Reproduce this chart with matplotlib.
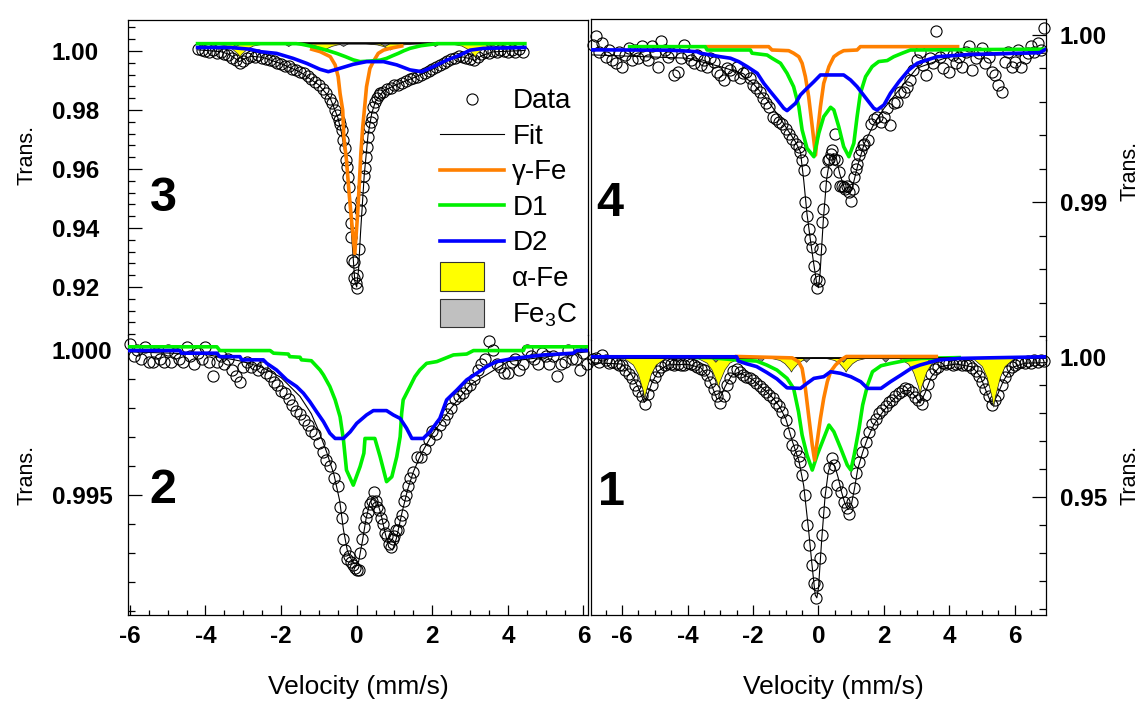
import matplotlib
matplotlib.use("Agg")
import matplotlib.pyplot as plt
import matplotlib.patches as mpatches
from matplotlib.lines import Line2D
from matplotlib.legend_handler import HandlerPatch
from matplotlib.ticker import MultipleLocator

plt.rcParams['font.family'] = ['Liberation Sans', 'DejaVu Sans']
plt.rcParams['mathtext.fontset'] = 'custom'
plt.rcParams['mathtext.rm'] = 'Liberation Sans'
plt.rcParams['mathtext.it'] = 'Liberation Sans:italic'
plt.rcParams['axes.unicode_minus'] = False

ORANGE = '#ff8000'
GREEN = '#00f000'
BLUE = '#0000ff'
YELLOW = '#ffff00'
GREY = '#808080'

# ---------------- panel 3 (top left) ----------------
P3_DATA = [(-4.2, 1.0008), (-4.1, 1.0004), (-4.0, 1.0000), (-3.9, 0.9996), (-3.8, 1.0002), (-3.7, 0.9992),
           (-3.6, 0.9998), (-3.5, 0.9990), (-3.4, 0.9986), (-3.3, 0.9978), (-3.2, 0.9968), (-3.1, 0.9958),
           (-3.0, 0.9966), (-2.9, 0.9978), (-2.8, 0.9984), (-2.7, 0.9980), (-2.6, 0.9986), (-2.5, 0.9978),
           (-2.4, 0.9974), (-2.3, 0.9970), (-2.2, 0.9966), (-2.1, 0.9960), (-2.0, 0.9956), (-1.9, 0.9950),
           (-1.8, 0.9948), (-1.7, 0.9940), (-1.6, 0.9934), (-1.5, 0.9930), (-1.4, 0.9926), (-1.3, 0.9914),
           (-1.2, 0.9906), (-1.1, 0.9896), (-1.0, 0.9884), (-0.9, 0.9872), (-0.8, 0.9858), (-0.7, 0.9838),
           (-0.64, 0.9823), (-0.58, 0.9800), (-0.52, 0.9782), (-0.48, 0.9766), (-0.44, 0.9752), (-0.40, 0.9732),
           (-0.36, 0.9698), (-0.32, 0.9670), (-0.28, 0.9631), (-0.25, 0.9608), (-0.22, 0.9574), (-0.20, 0.9540),
           (-0.18, 0.9472), (-0.16, 0.9416), (-0.14, 0.9370), (-0.12, 0.9292), (-0.08, 0.9286), (-0.06, 0.9230),
           (-0.03, 0.9213), (0.0, 0.9196), (0.02, 0.9240), (0.05, 0.9330), (0.09, 0.9461), (0.11, 0.9495),
           (0.16, 0.9540), (0.19, 0.9575), (0.22, 0.9602), (0.25, 0.9642), (0.27, 0.9676), (0.31, 0.9710),
           (0.33, 0.9743), (0.37, 0.9760), (0.40, 0.9777), (0.44, 0.9811), (0.48, 0.9826), (0.53, 0.9840),
           (0.58, 0.9850), (0.62, 0.9857), (0.7, 0.9862), (0.8, 0.9870), (0.9, 0.9876), (1.0, 0.9884),
           (1.1, 0.9886), (1.2, 0.9892), (1.3, 0.9900), (1.4, 0.9904), (1.5, 0.9908), (1.6, 0.9912),
           (1.7, 0.9920), (1.8, 0.9924), (1.9, 0.9932), (2.0, 0.9938), (2.1, 0.9946), (2.2, 0.9952),
           (2.3, 0.9960), (2.4, 0.9966), (2.5, 0.9974), (2.6, 0.9978), (2.7, 0.9984), (2.8, 0.9980),
           (2.9, 0.9978), (3.0, 0.9972), (3.1, 0.9968), (3.2, 0.9980), (3.3, 0.9990), (3.4, 0.9996),
           (3.5, 0.9992), (3.6, 1.0000), (3.7, 0.9996), (3.8, 1.0004), (3.9, 1.0000), (4.0, 0.9996),
           (4.1, 1.0002), (4.2, 0.9998), (4.3, 1.0006), (4.4, 0.9998)]
P3_FIT = [(-4.2, 1.0004), (-3.6, 0.9998), (-3.4, 0.9990), (-3.25, 0.9978), (-3.1, 0.9964), (-2.95, 0.9975),
          (-2.8, 0.9982), (-2.5, 0.9979), (-2.0, 0.9957), (-1.5, 0.9929), (-1.0, 0.9885), (-0.7, 0.9840),
          (-0.5, 0.9775), (-0.4, 0.9722), (-0.3, 0.9645), (-0.2, 0.9510), (-0.12, 0.9350), (-0.05, 0.9220),
          (0.0, 0.9200), (0.05, 0.9260), (0.1, 0.9380), (0.2, 0.9580), (0.3, 0.9715), (0.4, 0.9790),
          (0.5, 0.9830), (0.7, 0.9864), (1.0, 0.9883), (1.5, 0.9909), (2.0, 0.9938), (2.5, 0.9974),
          (2.8, 0.9980), (3.0, 0.9974), (3.12, 0.9968), (3.3, 0.9984), (3.6, 0.9997), (4.45, 1.0002)]
P3_GAMMA = [(-1.19, 1.0006), (-0.97, 0.9998), (-0.70, 0.9981), (-0.57, 0.9953), (-0.49, 0.9913), (-0.44, 0.9856),
            (-0.37, 0.9800), (-0.34, 0.9709), (-0.27, 0.9630), (-0.20, 0.9517), (-0.12, 0.9404), (-0.05, 0.9314),
            (0.02, 0.9438), (0.07, 0.9551), (0.11, 0.9653), (0.16, 0.9743), (0.22, 0.9823), (0.26, 0.9879),
            (0.31, 0.9913), (0.35, 0.9941), (0.44, 0.9964), (0.57, 0.9992), (0.71, 1.0003), (0.88, 1.0009),
            (1.19, 1.0017)]
P3_D1 = [(-4.21, 1.0025), (-1.6, 1.0025), (-1.46, 1.0023), (-1.2, 1.0016), (-0.97, 1.0009), (-0.75, 1.0001),
         (-0.53, 0.9992), (-0.3, 0.9981), (-0.09, 0.9970), (0.09, 0.9964), (0.35, 0.9966), (0.62, 0.9969),
         (0.79, 0.9975), (0.95, 0.9984), (1.1, 0.9992), (1.25, 1.0001), (1.41, 1.0009), (1.7, 1.0018),
         (2.12, 1.0025), (4.45, 1.0025)]
P3_D2 = [(-4.21, 1.0012), (-3.35, 1.0012), (-2.82, 1.0006), (-2.56, 0.9998), (-2.12, 0.9992), (-1.68, 0.9975),
         (-1.32, 0.9958), (-0.97, 0.9938), (-0.75, 0.9930), (-0.53, 0.9938), (-0.09, 0.9955), (0.26, 0.9964),
         (0.71, 0.9964), (1.06, 0.9953), (1.41, 0.9936), (1.72, 0.9930), (2.03, 0.9947), (2.38, 0.9969),
         (2.73, 0.9986), (3.0, 1.0003), (3.35, 1.0009), (4.45, 1.0012)]
P3_BASE = 1.0026
P3_SPAN = (-4.21, 4.45)
P3_ALPHA = [(-4.21, 1.0026), (-3.75, 1.0026), (-3.45, 1.00185), (-3.30, 1.0008), (-3.15, 0.9991), (-3.10, 0.9982),
            (-3.05, 0.9991), (-2.90, 1.0008), (-2.75, 1.00185), (-2.45, 1.0026), (-1.51, 1.0026), (-1.21, 1.00224),
            (-1.06, 1.00176), (-0.91, 1.0009), (-0.86, 1.0005), (-0.81, 1.0009), (-0.66, 1.00176), (-0.51, 1.00224),
            (-0.21, 1.0026), (0.23, 1.0026), (0.53, 1.00224), (0.68, 1.00176), (0.83, 1.0009), (0.88, 1.0005),
            (0.93, 1.0009), (1.08, 1.00176), (1.23, 1.00224), (1.53, 1.0026), (2.47, 1.0026), (2.77, 1.00185),
            (2.92, 1.0008), (3.07, 0.9991), (3.12, 0.9982), (3.17, 0.9991), (3.32, 1.0008), (3.47, 1.00185),
            (3.77, 1.0026), (4.45, 1.0026)]
P3_FE3C = [(-4.21, 1.0026), (-3.32, 1.0026), (-3.2, 1.0017), (-3.08, 1.0026), (-1.93, 1.0026), (-1.81, 1.0017),
           (-1.69, 1.0026), (-0.48, 1.0026), (-0.36, 1.0017), (-0.24, 1.0026), (0.62, 1.0026), (0.74, 1.0017),
           (0.86, 1.0026), (1.95, 1.0026), (2.07, 1.0017), (2.19, 1.0026), (3.36, 1.0026), (3.48, 1.0017),
           (3.60, 1.0026), (4.45, 1.0026)]

# ---------------- panel 2 (bottom left) ----------------
P2_DATA = [(-6.0, 1.0002), (-5.9, 0.9998), (-5.8, 1.0000), (-5.7, 0.9997), (-5.6, 1.0001), (-5.5, 0.9996),
           (-5.4, 0.9996), (-5.3, 0.9999), (-5.2, 0.9997), (-5.1, 0.9996), (-5.0, 1.0000), (-4.9, 0.9996),
           (-4.8, 0.9999), (-4.7, 0.9997), (-4.6, 0.9996), (-4.5, 1.0001), (-4.4, 0.9998), (-4.3, 0.9995),
           (-4.2, 0.9999), (-4.1, 0.9997), (-4.0, 1.0001), (-3.9, 0.9996), (-3.8, 0.9991), (-3.7, 0.9996),
           (-3.6, 0.9998), (-3.5, 0.9995), (-3.4, 0.9997), (-3.3, 0.9993), (-3.2, 0.9991), (-3.1, 0.9989),
           (-3.0, 0.9994), (-2.9, 0.9996), (-2.8, 0.9994), (-2.7, 0.9995), (-2.6, 0.9993), (-2.5, 0.9994),
           (-2.4, 0.9992), (-2.3, 0.9991), (-2.2, 0.9989), (-2.1, 0.9988), (-2.0, 0.9986), (-1.9, 0.9985),
           (-1.8, 0.9983), (-1.7, 0.9981), (-1.6, 0.9979), (-1.5, 0.9978), (-1.4, 0.9976), (-1.3, 0.9974),
           (-1.2, 0.9972), (-1.1, 0.9971), (-1.0, 0.9968), (-0.9, 0.9965), (-0.8, 0.9962), (-0.7, 0.9960),
           (-0.6, 0.9956), (-0.5, 0.9953), (-0.45, 0.9946), (-0.4, 0.9942), (-0.35, 0.9935), (-0.3, 0.9931),
           (-0.25, 0.9928), (-0.2, 0.9929), (-0.15, 0.9927), (-0.1, 0.9926), (-0.05, 0.9925), (0.0, 0.9924),
           (0.05, 0.9924), (0.1, 0.9930), (0.15, 0.9935), (0.2, 0.9939), (0.25, 0.9942), (0.3, 0.9944),
           (0.35, 0.9947), (0.4, 0.9948), (0.45, 0.9951), (0.5, 0.9948), (0.55, 0.9946), (0.6, 0.9945),
           (0.65, 0.9942), (0.7, 0.9940), (0.75, 0.9937), (0.8, 0.9936), (0.85, 0.9933), (0.9, 0.9932),
           (0.95, 0.9935), (1.0, 0.9936), (1.05, 0.9938), (1.1, 0.9938), (1.15, 0.9941), (1.2, 0.9943),
           (1.25, 0.9948), (1.3, 0.9950), (1.35, 0.9953), (1.4, 0.9956), (1.5, 0.9958), (1.6, 0.9963),
           (1.7, 0.9963), (1.8, 0.9966), (1.9, 0.9969), (2.0, 0.9972), (2.1, 0.9971), (2.2, 0.9974),
           (2.3, 0.9976), (2.4, 0.9978), (2.5, 0.9980), (2.6, 0.9983), (2.7, 0.9984), (2.8, 0.9985),
           (2.9, 0.9987), (3.0, 0.9988), (3.1, 0.9990), (3.2, 0.9993), (3.3, 0.9995), (3.4, 0.9997),
           (3.5, 1.0003), (3.6, 1.0000), (3.7, 0.9995), (3.8, 0.9994), (3.9, 0.9992), (4.0, 0.9992),
           (4.1, 0.9996), (4.2, 0.9997), (4.3, 0.9993), (4.4, 0.9995), (4.5, 1.0000), (4.6, 0.9998),
           (4.7, 0.9997), (4.8, 0.9995), (4.9, 0.9999), (5.0, 0.9998), (5.1, 0.9995), (5.2, 0.9998),
           (5.3, 0.9991), (5.4, 0.9995), (5.5, 0.9996), (5.6, 1.0000), (5.7, 0.9997), (5.8, 0.9997),
           (5.9, 0.9993), (6.0, 0.9999), (6.1, 0.9995)]
P2_FIT = [(-6.05, 0.99994), (-4.0, 0.99985), (-3.0, 0.99960), (-2.5, 0.99940), (-2.0, 0.99905), (-1.5, 0.99840),
          (-1.2, 0.99780), (-1.0, 0.99720), (-0.8, 0.99650), (-0.6, 0.99570), (-0.45, 0.99480), (-0.35, 0.99380),
          (-0.25, 0.99310), (-0.15, 0.99280), (-0.05, 0.99262), (0.05, 0.99270), (0.15, 0.99340), (0.25, 0.99420),
          (0.35, 0.99475), (0.45, 0.99490), (0.55, 0.99475), (0.65, 0.99430), (0.75, 0.99370), (0.85, 0.99320),
          (0.95, 0.99310), (1.05, 0.99350), (1.2, 0.99440), (1.35, 0.99520), (1.5, 0.99580), (1.7, 0.99640),
          (2.0, 0.99710), (2.5, 0.99800), (3.0, 0.99880), (4.0, 0.99960), (6.1, 0.99994)]
P2_D1 = [(-6.05, 1.00011), (-3.70, 1.00011), (-3.62, 0.99998), (-2.29, 0.99998), (-2.20, 0.99989), (-1.81, 0.99986),
         (-1.77, 0.99977), (-1.50, 0.99975), (-1.46, 0.99966), (-1.20, 0.99963), (-0.97, 0.99931), (-0.88, 0.99914),
         (-0.71, 0.99874), (-0.57, 0.99828), (-0.44, 0.99770), (-0.35, 0.99690), (-0.27, 0.99586), (-0.09, 0.99534),
         (0.09, 0.99598), (0.19, 0.99644), (0.22, 0.99695), (0.48, 0.99695), (0.62, 0.99632), (0.79, 0.99546),
         (0.93, 0.99563), (1.06, 0.99632), (1.15, 0.99701), (1.19, 0.99782), (1.23, 0.99828), (1.41, 0.99874),
         (1.54, 0.99908), (1.67, 0.99931), (1.85, 0.99954), (2.12, 0.99960), (2.56, 0.99983), (2.91, 0.99986),
         (3.09, 0.99998), (4.41, 0.99998), (4.45, 1.00011), (6.12, 1.00011)]
P2_D2 = [(-6.05, 0.99998), (-4.68, 0.99998), (-4.63, 0.99989), (-3.70, 0.99989), (-3.62, 0.99977), (-3.09, 0.99977),
         (-3.04, 0.99966), (-2.47, 0.99966), (-2.38, 0.99954), (-2.12, 0.99931), (-1.85, 0.99897), (-1.59, 0.99874),
         (-1.41, 0.99851), (-1.24, 0.99822), (-1.06, 0.99787), (-0.88, 0.99753), (-0.71, 0.99713), (-0.57, 0.99695),
         (-0.35, 0.99695), (-0.17, 0.99718), (0.0, 0.99747), (0.26, 0.99776), (0.44, 0.99791), (0.79, 0.99791),
         (0.97, 0.99776), (1.15, 0.99764), (1.32, 0.99730), (1.46, 0.99695), (1.76, 0.99695), (1.94, 0.99718),
         (2.20, 0.99764), (2.38, 0.99828), (2.65, 0.99862), (2.91, 0.99897), (3.18, 0.99920), (3.44, 0.99943),
         (3.70, 0.99960), (4.15, 0.99971), (4.94, 0.99983), (5.73, 0.99989), (5.82, 0.99998), (6.12, 0.99998)]

# ---------------- panel 4 (top right) ----------------
P4_DATA = [(-6.9, 0.9994), (-6.8, 0.9999), (-6.7, 0.9990), (-6.6, 0.9995), (-6.5, 0.9987), (-6.4, 0.9991),
           (-6.3, 0.9985), (-6.2, 0.9983), (-6.1, 0.9990), (-6.0, 0.9981), (-5.9, 0.9988), (-5.8, 0.9992),
           (-5.7, 0.9985), (-5.6, 0.9991), (-5.5, 0.9986), (-5.4, 0.9993), (-5.3, 0.9988), (-5.2, 0.9985),
           (-5.1, 0.9993), (-5.0, 0.9989), (-4.9, 0.9981), (-4.8, 0.9996), (-4.7, 0.9991), (-4.6, 0.9987),
           (-4.5, 0.9989), (-4.4, 0.9976), (-4.3, 0.9978), (-4.2, 0.9986), (-4.1, 0.9994), (-4.0, 0.9988),
           (-3.9, 0.9985), (-3.8, 0.9983), (-3.7, 0.9988), (-3.6, 0.9982), (-3.5, 0.9985), (-3.4, 0.9981),
           (-3.3, 0.9986), (-3.2, 0.9984), (-3.1, 0.9978), (-3.0, 0.9976), (-2.9, 0.9973), (-2.8, 0.9980),
           (-2.7, 0.9979), (-2.6, 0.9976), (-2.5, 0.9981), (-2.4, 0.9974), (-2.3, 0.9977), (-2.2, 0.9978),
           (-2.1, 0.9974), (-2.0, 0.9970), (-1.9, 0.9968), (-1.8, 0.9966), (-1.7, 0.9962), (-1.6, 0.9959),
           (-1.5, 0.9957), (-1.4, 0.9951), (-1.3, 0.9950), (-1.2, 0.9948), (-1.1, 0.9947), (-1.0, 0.9944),
           (-0.9, 0.9941), (-0.8, 0.9938), (-0.7, 0.9935), (-0.6, 0.9933), (-0.55, 0.9930), (-0.5, 0.9925),
           (-0.45, 0.9919), (-0.4, 0.9900), (-0.35, 0.9892), (-0.3, 0.9884), (-0.25, 0.9878), (-0.19, 0.9873),
           (-0.14, 0.9862), (-0.09, 0.9854), (-0.04, 0.9849), (0.02, 0.9853), (0.06, 0.9872), (0.1, 0.9888),
           (0.14, 0.9896), (0.2, 0.9910), (0.24, 0.9918), (0.28, 0.9925), (0.32, 0.9926), (0.37, 0.9929),
           (0.42, 0.9931), (0.47, 0.9926), (0.52, 0.9941), (0.57, 0.9925), (0.62, 0.9918), (0.67, 0.9910),
           (0.72, 0.9910), (0.77, 0.9909), (0.82, 0.9908), (0.88, 0.9910), (0.94, 0.9906), (1.0, 0.9901),
           (1.04, 0.9908), (1.08, 0.9915), (1.14, 0.9920), (1.18, 0.9923), (1.24, 0.9928), (1.3, 0.9931),
           (1.35, 0.9934), (1.4, 0.9935), (1.5, 0.9937), (1.6, 0.9947), (1.7, 0.9950), (1.8, 0.9951),
           (1.9, 0.9948), (2.0, 0.9951), (2.1, 0.9956), (2.2, 0.9946), (2.3, 0.9959), (2.4, 0.9960),
           (2.5, 0.9966), (2.6, 0.9966), (2.7, 0.9969), (2.8, 0.9973), (2.9, 0.9979), (3.0, 0.9985),
           (3.1, 0.9990), (3.2, 0.9982), (3.3, 0.9976), (3.4, 0.9986), (3.5, 0.9983), (3.6, 1.0002),
           (3.7, 0.9987), (3.8, 0.9980), (3.9, 0.9990), (4.0, 0.9978), (4.1, 0.9988), (4.2, 0.9983),
           (4.3, 0.9987), (4.4, 0.9981), (4.5, 0.9990), (4.6, 0.9993), (4.7, 0.9979), (4.8, 0.9986),
           (4.9, 0.9989), (5.0, 0.9992), (5.1, 0.9983), (5.2, 0.9987), (5.3, 0.9978), (5.4, 0.9976),
           (5.5, 0.9970), (5.6, 0.9966), (5.7, 0.9984), (5.8, 0.9990), (5.9, 0.9981), (6.0, 0.9984),
           (6.1, 0.9991), (6.2, 0.9981), (6.3, 0.9986), (6.4, 0.9989), (6.5, 0.9993), (6.6, 0.9990),
           (6.7, 0.9995), (6.8, 0.9991), (6.9, 1.0004)]
P4_FIT = [(-6.95, 0.99880), (-4.0, 0.99860), (-3.0, 0.99810), (-2.5, 0.99780), (-2.0, 0.99710), (-1.6, 0.99620),
          (-1.2, 0.99510), (-0.9, 0.99420), (-0.7, 0.99360), (-0.55, 0.99300), (-0.45, 0.99130), (-0.35, 0.98930),
          (-0.25, 0.98780), (-0.15, 0.98640), (-0.05, 0.98510), (0.0, 0.98490), (0.05, 0.98580), (0.15, 0.98900),
          (0.25, 0.99140), (0.35, 0.99260), (0.45, 0.99290), (0.55, 0.99260), (0.65, 0.99170), (0.8, 0.99080),
          (0.95, 0.99050), (1.05, 0.99100), (1.2, 0.99220), (1.4, 0.99350), (1.7, 0.99470), (2.0, 0.99560),
          (2.5, 0.99680), (3.0, 0.99800), (4.0, 0.99870), (6.95, 0.99890)]
P4_GAMMA = [(-3.40, 0.99929), (-1.52, 0.99929), (-1.42, 0.99909), (-0.91, 0.99905), (-0.76, 0.99890),
            (-0.60, 0.99869), (-0.50, 0.99830), (-0.40, 0.99750), (-0.30, 0.99631), (-0.19, 0.99451),
            (-0.09, 0.99282), (-0.02, 0.99432), (0.06, 0.99571), (0.16, 0.99710), (0.32, 0.99810),
            (0.47, 0.99869), (0.62, 0.99890), (0.77, 0.99905), (1.18, 0.99909), (1.28, 0.99929), (4.25, 0.99929)]
P4_D1 = [(-5.77, 0.99929), (-3.46, 0.99929), (-3.40, 0.99909), (-2.08, 0.99909), (-2.03, 0.99890), (-1.57, 0.99879),
         (-1.42, 0.99860), (-1.16, 0.99830), (-0.96, 0.99770), (-0.76, 0.99690), (-0.60, 0.99571), (-0.50, 0.99432),
         (-0.35, 0.99322), (-0.14, 0.99272), (0.01, 0.99412), (0.16, 0.99511), (0.37, 0.99567), (0.47, 0.99551),
         (0.62, 0.99451), (0.77, 0.99332), (0.93, 0.99272), (1.08, 0.99352), (1.18, 0.99511), (1.28, 0.99650),
         (1.44, 0.99750), (1.64, 0.99810), (1.84, 0.99840), (2.10, 0.99846), (2.30, 0.99869), (2.56, 0.99890),
         (2.81, 0.99909), (6.95, 0.99914)]
P4_D2 = [(-6.95, 0.99910), (-4.60, 0.99908), (-4.22, 0.99905), (-3.71, 0.99899), (-3.61, 0.99890), (-3.00, 0.99869),
         (-2.69, 0.99860), (-2.44, 0.99840), (-2.18, 0.99810), (-1.87, 0.99770), (-1.67, 0.99710), (-1.47, 0.99661),
         (-1.26, 0.99611), (-1.06, 0.99561), (-0.96, 0.99547), (-0.70, 0.99591), (-0.55, 0.99641), (-0.40, 0.99671),
         (-0.14, 0.99720), (0.06, 0.99760), (0.77, 0.99760), (0.98, 0.99730), (1.18, 0.99690), (1.49, 0.99611),
         (1.69, 0.99561), (1.79, 0.99551), (2.00, 0.99581), (2.20, 0.99651), (2.46, 0.99720), (2.76, 0.99790),
         (3.02, 0.99830), (3.32, 0.99850), (3.63, 0.99869), (4.58, 0.99882), (6.76, 0.99893), (6.95, 0.99914)]

# ---------------- panel 1 (bottom right) ----------------
P1_DATA = [(-6.9, 0.9992), (-6.8, 0.9996), (-6.7, 0.9982), (-6.6, 1.0008), (-6.5, 0.9988), (-6.4, 0.9980),
           (-6.3, 0.9984), (-6.2, 0.9978), (-6.1, 0.9972), (-6.0, 0.9970), (-5.9, 0.9955), (-5.8, 0.9940),
           (-5.7, 0.9925), (-5.6, 0.9900), (-5.5, 0.9880), (-5.4, 0.9862), (-5.3, 0.9834), (-5.2, 0.9868),
           (-5.1, 0.9900), (-5.0, 0.9928), (-4.9, 0.9950), (-4.8, 0.9966), (-4.7, 0.9973), (-4.6, 0.9978),
           (-4.5, 0.9976), (-4.4, 0.9972), (-4.3, 0.9975), (-4.2, 0.9970), (-4.1, 0.9973), (-4.0, 0.9978),
           (-3.9, 0.9976), (-3.8, 0.9970), (-3.7, 0.9964), (-3.6, 0.9958), (-3.5, 0.9952), (-3.4, 0.9935),
           (-3.3, 0.9910), (-3.2, 0.9885), (-3.1, 0.9862), (-3.0, 0.9836), (-2.9, 0.9860), (-2.8, 0.9900),
           (-2.7, 0.9926), (-2.6, 0.9950), (-2.5, 0.9956), (-2.4, 0.9945), (-2.3, 0.9936), (-2.2, 0.9930),
           (-2.1, 0.9924), (-2.0, 0.9918), (-1.9, 0.9908), (-1.8, 0.9895), (-1.7, 0.9886), (-1.6, 0.9875),
           (-1.5, 0.9864), (-1.4, 0.9852), (-1.3, 0.9836), (-1.2, 0.9826), (-1.1, 0.9805), (-1.0, 0.9775),
           (-0.9, 0.9730), (-0.8, 0.9686), (-0.7, 0.9668), (-0.6, 0.9645), (-0.55, 0.9626), (-0.5, 0.9579),
           (-0.42, 0.9507), (-0.34, 0.9400), (-0.29, 0.9329), (-0.19, 0.9257), (-0.14, 0.9192), (-0.09, 0.9138),
           (-0.04, 0.9186), (0.06, 0.9281), (0.11, 0.9364), (0.16, 0.9448), (0.22, 0.9519), (0.32, 0.9602),
           (0.42, 0.9638), (0.47, 0.9614), (0.57, 0.9543), (0.68, 0.9519), (0.78, 0.9483), (0.88, 0.9460),
           (0.93, 0.9441), (1.03, 0.9483), (1.09, 0.9531), (1.14, 0.9585), (1.24, 0.9626), (1.34, 0.9662),
           (1.45, 0.9698), (1.55, 0.9733), (1.65, 0.9760), (1.75, 0.9780), (1.85, 0.9800), (1.95, 0.9812),
           (2.05, 0.9825), (2.15, 0.9838), (2.25, 0.9848), (2.35, 0.9860), (2.45, 0.9870), (2.55, 0.9880),
           (2.65, 0.9888), (2.75, 0.9885), (2.85, 0.9874), (2.95, 0.9858), (3.05, 0.9845), (3.15, 0.9834),
           (3.25, 0.9864), (3.35, 0.9905), (3.45, 0.9940), (3.55, 0.9958), (3.65, 0.9965), (3.8, 0.9977),
           (3.9, 0.9974), (4.0, 0.9979), (4.1, 0.9971), (4.2, 0.9976), (4.3, 0.9977), (4.4, 0.9973),
           (4.5, 0.9971), (4.6, 0.9970), (4.7, 0.9962), (4.8, 0.9950), (4.9, 0.9934), (5.0, 0.9910),
           (5.1, 0.9885), (5.2, 0.9862), (5.3, 0.9830), (5.4, 0.9845), (5.5, 0.9866), (5.6, 0.9900),
           (5.7, 0.9930), (5.8, 0.9950), (5.9, 0.9965), (6.0, 0.9972), (6.1, 0.9977), (6.2, 0.9982),
           (6.3, 0.9978), (6.4, 0.9985), (6.5, 0.9980), (6.6, 0.9988), (6.7, 0.9983), (6.8, 0.9990),
           (6.9, 0.9985)]
P1_FIT = [(-6.95, 0.9980), (-6.0, 0.9975), (-5.7, 0.9935), (-5.5, 0.9890), (-5.4, 0.9860), (-5.32, 0.9838),
          (-5.22, 0.9865), (-5.1, 0.9905), (-4.9, 0.9950), (-4.6, 0.9972), (-4.0, 0.9974), (-3.6, 0.9962),
          (-3.4, 0.9935), (-3.25, 0.9895), (-3.1, 0.9850), (-3.0, 0.9855), (-2.85, 0.9895), (-2.65, 0.9935),
          (-2.45, 0.9945), (-2.2, 0.9932), (-2.0, 0.9918), (-1.7, 0.9888), (-1.4, 0.9855), (-1.2, 0.9825),
          (-1.0, 0.9780), (-0.8, 0.9700), (-0.6, 0.9630), (-0.45, 0.9540), (-0.3, 0.9380), (-0.2, 0.9260),
          (-0.1, 0.9150), (-0.05, 0.9140), (0.0, 0.9175), (0.1, 0.9350), (0.2, 0.9500), (0.3, 0.9590),
          (0.4, 0.9625), (0.5, 0.9610), (0.6, 0.9570), (0.7, 0.9520), (0.8, 0.9480), (0.9, 0.9455),
          (1.0, 0.9470), (1.1, 0.9530), (1.2, 0.9600), (1.35, 0.9660), (1.5, 0.9710), (1.7, 0.9760),
          (2.0, 0.9810), (2.3, 0.9850), (2.6, 0.9880), (2.8, 0.9880), (2.95, 0.9860), (3.1, 0.9835),
          (3.25, 0.9870), (3.45, 0.9930), (3.7, 0.9965), (4.2, 0.9975), (4.7, 0.9965), (4.95, 0.9930),
          (5.15, 0.9870), (5.3, 0.9830), (5.45, 0.9860), (5.65, 0.9915), (5.9, 0.9962), (6.3, 0.9978),
          (6.95, 0.9980)]
P1_GAMMA = [(-2.5, 1.0002), (-0.8, 0.9997), (-0.61, 0.99833), (-0.50, 0.99595), (-0.40, 0.98881),
            (-0.29, 0.97810), (-0.19, 0.96857), (-0.12, 0.96321), (-0.04, 0.96976), (0.06, 0.97810),
            (0.16, 0.98524), (0.27, 0.99119), (0.37, 0.99476), (0.52, 0.99714), (0.68, 0.99893),
            (0.85, 1.0002), (3.6, 1.0002)]
P1_D1 = [(-3.7, 0.9998), (-3.3, 0.9998), (-2.50, 0.99893), (-1.89, 0.99857), (-1.58, 0.99714), (-1.27, 0.99536),
         (-0.96, 0.99238), (-0.76, 0.98881), (-0.61, 0.98048), (-0.50, 0.97214), (-0.35, 0.96500), (-0.19, 0.95964),
         (-0.04, 0.96500), (0.16, 0.97096), (0.32, 0.97571), (0.47, 0.97333), (0.68, 0.96738), (0.88, 0.96143),
         (0.99, 0.95964), (1.09, 0.96500), (1.24, 0.97452), (1.35, 0.98286), (1.50, 0.99000), (1.65, 0.99476),
         (1.91, 0.99690), (2.22, 0.99774), (2.73, 0.99893), (3.14, 0.99952), (4.3, 0.9998)]
P1_D2 = [(-6.95, 1.0001), (-2.50, 1.0001), (-2.45, 0.99857), (-2.20, 0.99760), (-1.89, 0.99660), (-1.58, 0.99450),
         (-1.27, 0.99220), (-0.96, 0.98900), (-0.55, 0.98881), (-0.35, 0.99060), (-0.14, 0.99238), (0.16, 0.99298),
         (0.37, 0.99476), (0.68, 0.99417), (0.99, 0.99298), (1.29, 0.99119), (1.50, 0.98881), (1.91, 0.98881),
         (2.20, 0.99119), (2.52, 0.99357), (2.83, 0.99595), (3.10, 0.99714), (3.65, 0.99893), (4.30, 0.99952),
         (6.95, 1.0001)]
P1_BASE = 0.9998
P1_SPAN = (-6.95, 6.95)
P1_ALPHA = [(-6.95, 0.9998), (-5.97, 0.9998), (-5.67, 0.9973), (-5.52, 0.9940), (-5.37, 0.9882), (-5.32, 0.9853),
            (-5.27, 0.9882), (-5.12, 0.9940), (-4.97, 0.9973), (-4.67, 0.9998), (-3.72, 0.9998), (-3.42, 0.9980),
            (-3.27, 0.9956), (-3.12, 0.9915), (-3.07, 0.9894), (-3.02, 0.9915), (-2.87, 0.9956), (-2.72, 0.9980),
            (-2.42, 0.9998), (-1.49, 0.9998), (-1.19, 0.99895), (-1.04, 0.9978), (-0.89, 0.9958), (-0.84, 0.9948),
            (-0.79, 0.9958), (-0.64, 0.9978), (-0.49, 0.99895), (-0.19, 0.9998), (0.18, 0.9998), (0.48, 0.99895),
            (0.63, 0.9978), (0.78, 0.9958), (0.83, 0.9948), (0.88, 0.9958), (1.03, 0.9978), (1.18, 0.99895),
            (1.48, 0.9998), (2.44, 0.9998), (2.74, 0.9976), (2.89, 0.9947), (3.04, 0.9896), (3.09, 0.9870),
            (3.14, 0.9896), (3.29, 0.9947), (3.44, 0.9976), (3.74, 0.9998), (4.69, 0.9998), (4.99, 0.9968),
            (5.14, 0.9928), (5.29, 0.9858), (5.34, 0.9823), (5.39, 0.9858), (5.54, 0.9928), (5.69, 0.9968),
            (5.99, 0.9998), (6.95, 0.9998)]
P1_FE3C = [(-6.95, 0.9998), (-3.27, 0.9998), (-3.15, 0.9983), (-3.03, 0.9998), (-1.89, 0.9998), (-1.77, 0.9983),
           (-1.65, 0.9998), (-0.50, 0.9998), (-0.38, 0.9983), (-0.26, 0.9998), (0.63, 0.9998), (0.75, 0.9983),
           (0.87, 0.9998), (1.92, 0.9998), (2.04, 0.9983), (2.16, 0.9998), (3.29, 0.9998), (3.41, 0.9983),
           (3.53, 0.9998), (6.95, 0.9998)]

X_TICKS = [-6, -4, -2, 0, 2, 4, 6]
LEGEND_LABELS = ['Data', 'Fit', 'γ-Fe', 'D1', 'D2', 'α-Fe', 'Fe$_3$C']


def xy(pairs):
    return [p[0] for p in pairs], [p[1] for p in pairs]


def spectrum(ax, data, fit):
    v, t = xy(data)
    ax.plot(v, t, ls='none', marker='o', ms=8, mfc='none', mec='k', mew=0.8, zorder=2, clip_on=False)
    v, t = xy(fit)
    ax.plot(v, t, color='k', lw=0.8, zorder=3)


def line(ax, pairs, color, z):
    v, t = xy(pairs)
    ax.plot(v, t, color=color, lw=2.6, zorder=z, solid_joinstyle='round')


def sextet(ax, pairs, base, color, z):
    v, t = xy(pairs)
    ax.fill_between(v, t, base, facecolor=color, edgecolor='#202020', lw=0.5, zorder=z)


def frame(ax, side, ylim, yticks, ylabels, yminor, xlim, xaxis):
    ax.patch.set_visible(False)
    ax.set_xlim(*xlim)
    ax.set_ylim(*ylim)
    for s in ax.spines.values():
        s.set_linewidth(0.9)
    if xaxis:
        ax.spines['top'].set_visible(False)
    else:
        ax.spines['bottom'].set_visible(False)
    ax.tick_params(which='both', direction='in', width=0.9)
    ax.tick_params(axis='y', which='major', length=10)
    ax.tick_params(axis='y', which='minor', length=5)
    if side == 'left':
        ax.tick_params(axis='y', which='both', left=True, right=False, labelleft=True, labelright=False, pad=55)
    else:
        ax.tick_params(axis='y', which='both', left=False, right=True, labelleft=False, labelright=True, pad=10)
    ax.set_yticks(yticks)
    ax.set_yticklabels(ylabels, fontsize=17.5, fontweight='bold', ha='left')
    ax.yaxis.set_minor_locator(MultipleLocator(yminor))
    if xaxis:
        ax.set_xticks(X_TICKS)
        ax.set_xticklabels([str(x) for x in X_TICKS], fontsize=17.5, fontweight='bold')
        ax.xaxis.set_minor_locator(MultipleLocator(0.5))
        ax.tick_params(axis='x', which='both', bottom=True, top=False, pad=7)
        ax.tick_params(axis='x', which='major', length=7)
        ax.tick_params(axis='x', which='minor', length=3.5)
    else:
        ax.tick_params(axis='x', which='both', bottom=False, top=False, labelbottom=False)


def small_box(legend, orig_handle, xdescent, ydescent, width, height, fontsize):
    return mpatches.Rectangle((-xdescent, -ydescent - 0.25 * height), 0.68 * width, 1.45 * height)


fig = plt.figure(figsize=(11.46, 7.02), dpi=100)
ax3 = fig.add_axes([0.1117, 0.5228, 0.4014, 0.4494])
ax2 = fig.add_axes([0.1117, 0.1239, 0.4014, 0.3989])
ax4 = fig.add_axes([0.5157, 0.5157, 0.3970, 0.4566])
ax1 = fig.add_axes([0.5157, 0.1239, 0.3970, 0.3917])

# panel 3
spectrum(ax3, P3_DATA, P3_FIT)
sextet(ax3, P3_ALPHA, P3_BASE, YELLOW, 4)
sextet(ax3, P3_FE3C, P3_BASE, GREY, 4.5)
ax3.plot(P3_SPAN, [P3_BASE, P3_BASE], color='k', lw=1.2, zorder=4.8)
line(ax3, P3_GAMMA, ORANGE, 5)
line(ax3, P3_D1, GREEN, 6)
line(ax3, P3_D2, BLUE, 7)
frame(ax3, 'left', (0.90373, 1.01068), [0.92, 0.94, 0.96, 0.98, 1.00],
      ['0.92', '0.94', '0.96', '0.98', '1.00'], 0.004, (-6.05, 6.12), False)

# panel 2
spectrum(ax2, P2_DATA, P2_FIT)
line(ax2, P2_D1, GREEN, 6)
line(ax2, P2_D2, BLUE, 7)
frame(ax2, 'left', (0.990862, 1.000517), [0.995, 1.000], ['0.995', '1.000'], 0.001, (-6.05, 6.12), True)

# panel 4
spectrum(ax4, P4_DATA, P4_FIT)
line(ax4, P4_GAMMA, ORANGE, 5)
line(ax4, P4_D1, GREEN, 6)
line(ax4, P4_D2, BLUE, 7)
frame(ax4, 'right', (0.981779, 1.000914), [0.99, 1.00], ['0.99', '1.00'], 0.002, (-6.95, 6.95), False)

# panel 1
spectrum(ax1, P1_DATA, P1_FIT)
sextet(ax1, P1_ALPHA, P1_BASE, YELLOW, 4)
sextet(ax1, P1_FE3C, P1_BASE, GREY, 4.5)
line(ax1, P1_D1, GREEN, 4.6)
ax1.plot(P1_SPAN, [P1_BASE, P1_BASE], color='k', lw=1.2, zorder=4.8)
line(ax1, P1_GAMMA, ORANGE, 5)
line(ax1, P1_D2, BLUE, 7)
frame(ax1, 'right', (0.90786, 1.00607), [0.95, 1.00], ['0.95', '1.00'], 0.01, (-6.95, 6.95), True)

# panel numbers
for ax, num, px, py in [(ax3, '3', 0.076, 0.434), (ax2, '2', 0.076, 0.446),
                        (ax4, '4', 0.042, 0.427), (ax1, '1', 0.044, 0.447)]:
    ax.text(px, py, num, transform=ax.transAxes, fontsize=35, fontweight='bold',
            ha='center', va='center', zorder=10)

# axis titles
for x, y in [(0.0236, 0.779), (0.0236, 0.3234), (0.986, 0.757), (0.986, 0.3234)]:
    fig.text(x, y, 'Trans.', rotation=90, ha='center', va='center', fontsize=15.5)
for x in [0.3124, 0.727]:
    fig.text(x, 1 - 687 / 702, 'Velocity (mm/s)', ha='center', va='center', fontsize=19)

# legend
handles = [Line2D([], [], ls='none', marker='o', ms=8, mfc='none', mec='k', mew=0.8),
           Line2D([], [], color='k', lw=0.8),
           Line2D([], [], color=ORANGE, lw=2.6),
           Line2D([], [], color=GREEN, lw=2.6),
           Line2D([], [], color=BLUE, lw=2.6),
           mpatches.Patch(facecolor=YELLOW, edgecolor='#333333', lw=0.8),
           mpatches.Patch(facecolor='#c0c0c0', edgecolor='#333333', lw=0.8)]
leg = ax3.legend(handles, LEGEND_LABELS, loc='upper left', bbox_to_anchor=(0.384, 0.874),
                 bbox_transform=fig.transFigure, frameon=False, fontsize=20, handlelength=2.3,
                 handletextpad=0.3, labelspacing=0.34, borderpad=0, borderaxespad=0,
                 handler_map={mpatches.Patch: HandlerPatch(patch_func=small_box)})
leg.set_zorder(20)

fig.savefig('out.png', dpi=100)
